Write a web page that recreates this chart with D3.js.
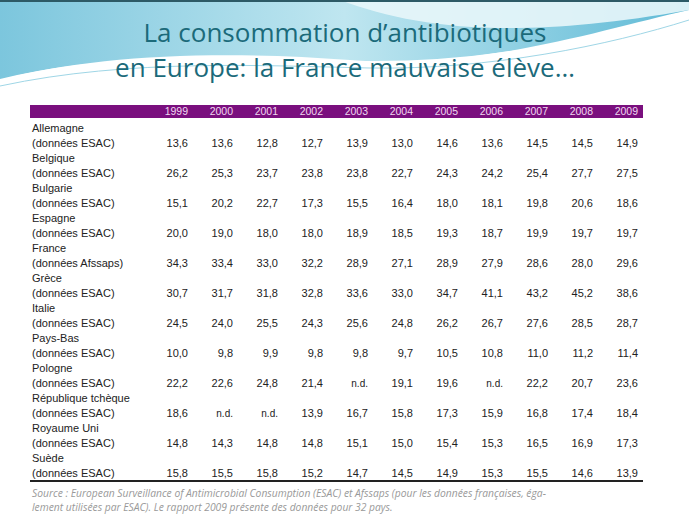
<!DOCTYPE html>
<html><head><meta charset="utf-8">
<script src="https://cdn.jsdelivr.net/npm/d3@7"></script>
<style>body{margin:0;background:#fff}svg{display:block}</style>
</head><body>
<script>
const years = ["1999","2000","2001","2002","2003","2004","2005","2006","2007","2008","2009"];
const countries = ["Allemagne","Belgique","Bulgarie","Espagne","France","Grèce","Italie","Pays-Bas","Pologne","République tchèque","Royaume Uni","Suède"];
const sources = ["(données ESAC)","(données ESAC)","(données ESAC)","(données ESAC)","(données Afssaps)","(données ESAC)","(données ESAC)","(données ESAC)","(données ESAC)","(données ESAC)","(données ESAC)","(données ESAC)"];
const values = [
 ["13,6","13,6","12,8","12,7","13,9","13,0","14,6","13,6","14,5","14,5","14,9"],
 ["26,2","25,3","23,7","23,8","23,8","22,7","24,3","24,2","25,4","27,7","27,5"],
 ["15,1","20,2","22,7","17,3","15,5","16,4","18,0","18,1","19,8","20,6","18,6"],
 ["20,0","19,0","18,0","18,0","18,9","18,5","19,3","18,7","19,9","19,7","19,7"],
 ["34,3","33,4","33,0","32,2","28,9","27,1","28,9","27,9","28,6","28,0","29,6"],
 ["30,7","31,7","31,8","32,8","33,6","33,0","34,7","41,1","43,2","45,2","38,6"],
 ["24,5","24,0","25,5","24,3","25,6","24,8","26,2","26,7","27,6","28,5","28,7"],
 ["10,0","9,8","9,9","9,8","9,8","9,7","10,5","10,8","11,0","11,2","11,4"],
 ["22,2","22,6","24,8","21,4","n.d.","19,1","19,6","n.d.","22,2","20,7","23,6"],
 ["18,6","n.d.","n.d.","13,9","16,7","15,8","17,3","15,9","16,8","17,4","18,4"],
 ["14,8","14,3","14,8","14,8","15,1","15,0","15,4","15,3","16,5","16,9","17,3"],
 ["15,8","15,5","15,8","15,2","14,7","14,5","14,9","15,3","15,5","14,6","13,9"]
];
const titleLines = ["La consommation d’antibiotiques","en Europe: la France mauvaise élève…"];
const sourceLines = ["Source : European Surveillance of Antimicrobial Consumption (ESAC) et Afssaps (pour les données françaises, éga-","lement utilisées par ESAC). Le rapport 2009 présente des données pour 32 pays."];

const W=689,H=517;
const svg=d3.select("body").append("svg").attr("width",W).attr("height",H);
const defs=svg.append("defs");
const g1=defs.append("linearGradient").attr("id","wave").attr("x1",0).attr("x2",1).attr("y1",0).attr("y2",0);
g1.append("stop").attr("offset","0").attr("stop-color","#7cc6dd");
g1.append("stop").attr("offset","0.5").attr("stop-color","#bfe6f0");
g1.append("stop").attr("offset","1").attr("stop-color","#5fbad6");
svg.append("rect").attr("width",W).attr("height",H).attr("fill","#fff");
svg.append("path").attr("d","M0,0 L689,0 L689,10 C600,30 480,70 350,60 C220,50 90,55 0,80 Z").attr("fill","url(#wave)");
svg.append("path").attr("d","M230,0 L340,0 C420,30 520,40 689,10 L689,0 Z").attr("fill","#e8f6fa").attr("opacity",0.9);
svg.append("path").attr("d","M0,80 C120,50 260,60 360,62 C480,64 600,40 689,12").attr("fill","none").attr("stroke","#ffffff").attr("stroke-width",2);
svg.append("path").attr("d","M0,86 C130,58 270,66 370,68 C490,70 610,45 689,20").attr("fill","none").attr("stroke","#9fd6e6").attr("stroke-width",1);
svg.append("rect").attr("width",W).attr("height",2).attr("fill","#2d5a66");

svg.selectAll("text.title").data(titleLines).join("text")
 .attr("x",345).attr("y",(d,i)=>42+i*35).attr("text-anchor","middle")
 .attr("font-family","Open Sans, sans-serif").attr("font-size",26).attr("fill","#1b6a7a").text(d=>d);

const x=d3.scaleBand().domain(years).range([153,648]);
const y=d3.scaleBand().domain(countries).range([121,481]);
svg.append("rect").attr("x",30).attr("y",105).attr("width",613).attr("height",13).attr("fill","#7a0f7e");
svg.selectAll("text.yr").data(years).join("text")
 .attr("x",d=>x(d)+x.bandwidth()-10).attr("y",115).attr("text-anchor","end")
 .attr("font-family","Liberation Sans, Arial").attr("font-size",10.5).attr("fill","#f0d8f0").text(d=>d);

const rows=svg.selectAll("g.row").data(countries).join("g").attr("transform",d=>`translate(0,${y(d)})`);
const f="Liberation Sans, Arial";
rows.append("text").attr("x",32).attr("y",11).attr("font-family",f).attr("font-size",11).attr("fill","#222").text(d=>d);
rows.append("text").attr("x",32).attr("y",26).attr("font-family",f).attr("font-size",11).attr("fill","#222").text((d,i)=>sources[i]);
rows.each(function(d,i){
  d3.select(this).selectAll("text.v").data(values[i]).join("text")
   .attr("x",(v,j)=>x(years[j])+x.bandwidth()-10).attr("y",26).attr("text-anchor","end")
   .attr("font-family",f).attr("font-size",v=>v==="n.d."?10:11).attr("fill","#222").text(v=>v);
});
svg.append("rect").attr("x",30).attr("y",480).attr("width",613).attr("height",2).attr("fill","#222");
svg.selectAll("text.src").data(sourceLines).join("text")
 .attr("x",32).attr("y",(d,i)=>497+i*14).attr("font-family","Open Sans, sans-serif").attr("font-style","italic")
 .attr("font-size",10.3).attr("fill","#999").text(d=>d);
</script>
</body></html>
